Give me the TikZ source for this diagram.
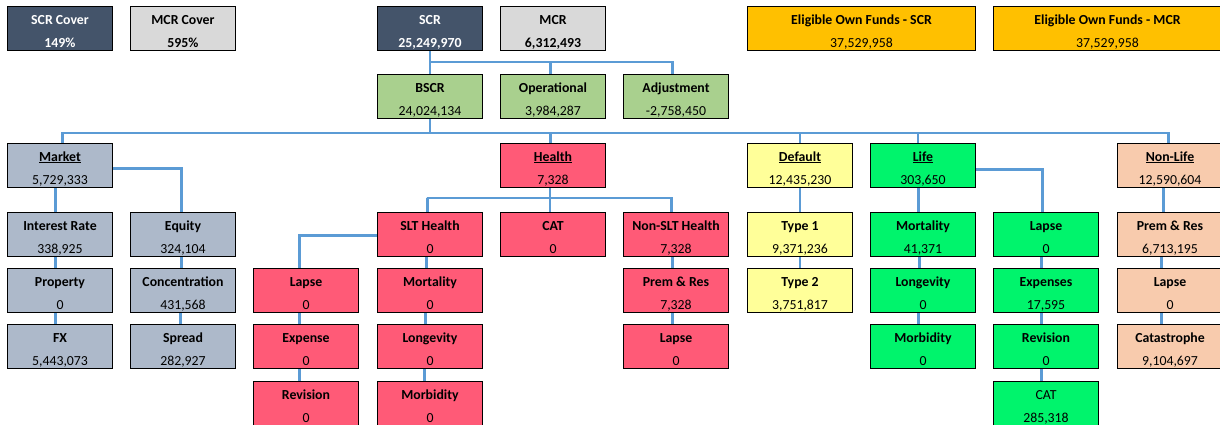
\documentclass[tikz,border=0pt]{standalone}
\usepackage{fontspec}
\setmainfont{Carlito}
\definecolor{slate}{HTML}{44546A}
\definecolor{lgray}{HTML}{D9D9D9}
\definecolor{gold}{HTML}{FFC000}
\definecolor{sage}{HTML}{A9D08E}
\definecolor{mkt}{HTML}{ADB9CA}
\definecolor{hlth}{HTML}{FF5A77}
\definecolor{dflt}{HTML}{FFFF99}
\definecolor{lifeg}{HTML}{00F46C}
\definecolor{nonl}{HTML}{F8CBAD}
\definecolor{conncol}{HTML}{5B9BD5}
\pgfdeclarelayer{bgfill}
\pgfdeclarelayer{lines}
\pgfsetlayers{bgfill,lines,main}
\newcommand{\bt}[2]{\rule{0pt}{16pt}\textbf{#1}\\#2}
\newcommand{\rt}[2]{\rule{0pt}{16pt}#1\\#2}
\tikzset{
  box/.style={draw=black, line width=1pt, minimum width=105pt, minimum height=44pt,
    inner sep=0pt, anchor=north west, align=center,
    font=\fontsize{13.8}{23}\selectfont},
  widebox/.style={box, minimum width=228pt},
  link/.style={draw=conncol, line width=2.6pt},
}
\begin{document}
\begin{tikzpicture}[x=1pt,y=-1pt]
\useasboundingbox (0,0) rectangle (1220,424);
\begin{pgfonlayer}{bgfill}
\fill[white] (0,0) rectangle (1220,424);
\end{pgfonlayer}
% row 0
\node[box, fill=slate, text=white] (scrcov) at (7,6) {\bt{SCR Cover}{\textbf{149\%}}};
\node[box, fill=lgray] (mcrcov) at (130,6) {\bt{MCR Cover}{\textbf{595\%}}};
\node[box, fill=slate, text=white] (scr) at (377,6) {\bt{SCR}{\textbf{25,249,970}}};
\node[box, fill=lgray] (mcr) at (500,6) {\bt{MCR}{\textbf{6,312,493}}};
\node[widebox, fill=gold] (eofs) at (747,6) {\bt{Eligible Own Funds - SCR}{37,529,958}};
\node[widebox, fill=gold] (eofm) at (993,6) {\bt{Eligible Own Funds - MCR}{37,529,958}};
% row 1
\node[box, fill=sage] (bscr) at (377,74) {\bt{BSCR}{24,024,134}};
\node[box, fill=sage] (oper) at (500,74) {\bt{Operational}{3,984,287}};
\node[box, fill=sage] (adj) at (623,74) {\bt{Adjustment}{-2,758,450}};
% row 2
\node[box, fill=mkt] (market) at (7,143) {\bt{\underline{Market}}{5,729,333}};
\node[box, fill=hlth] (health) at (500,143) {\bt{\underline{Health}}{7,328}};
\node[box, fill=dflt] (default) at (747,143) {\bt{\underline{Default}}{12,435,230}};
\node[box, fill=lifeg] (life) at (870,143) {\bt{\underline{Life}}{303,650}};
\node[box, fill=nonl] (nonlife) at (1117,143) {\bt{\underline{Non-Life}}{12,590,604}};
% row 3
\node[box, fill=mkt] (ir) at (7,212) {\bt{Interest Rate}{338,925}};
\node[box, fill=mkt] (equity) at (130,212) {\bt{Equity}{324,104}};
\node[box, fill=hlth] (slt) at (377,212) {\bt{SLT Health}{0}};
\node[box, fill=hlth] (hcat) at (500,212) {\bt{CAT}{0}};
\node[box, fill=hlth] (nslt) at (623,212) {\bt{Non-SLT Health}{7,328}};
\node[box, fill=dflt] (type1) at (747,212) {\bt{Type 1}{9,371,236}};
\node[box, fill=lifeg] (lmort) at (870,212) {\bt{Mortality}{41,371}};
\node[box, fill=lifeg] (llapse) at (993,212) {\bt{Lapse}{0}};
\node[box, fill=nonl] (nlprem) at (1117,212) {\bt{Prem \& Res}{6,713,195}};
% row 4
\node[box, fill=mkt] (prop) at (7,268) {\bt{Property}{0}};
\node[box, fill=mkt] (conc) at (130,268) {\bt{Concentration}{431,568}};
\node[box, fill=hlth] (hlapse) at (253,268) {\bt{Lapse}{0}};
\node[box, fill=hlth] (hmort) at (377,268) {\bt{Mortality}{0}};
\node[box, fill=hlth] (hprem) at (623,268) {\bt{Prem \& Res}{7,328}};
\node[box, fill=dflt] (type2) at (747,268) {\bt{Type 2}{3,751,817}};
\node[box, fill=lifeg] (llong) at (870,268) {\bt{Longevity}{0}};
\node[box, fill=lifeg] (lexp) at (993,268) {\bt{Expenses}{17,595}};
\node[box, fill=nonl] (nllapse) at (1117,268) {\bt{Lapse}{0}};
% row 5
\node[box, fill=mkt] (fx) at (7,324) {\bt{FX}{5,443,073}};
\node[box, fill=mkt] (spread) at (130,324) {\bt{Spread}{282,927}};
\node[box, fill=hlth] (hexp) at (253,324) {\bt{Expense}{0}};
\node[box, fill=hlth] (hlong) at (377,324) {\bt{Longevity}{0}};
\node[box, fill=hlth] (hnlapse) at (623,324) {\bt{Lapse}{0}};
\node[box, fill=lifeg] (lmorb) at (870,324) {\bt{Morbidity}{0}};
\node[box, fill=lifeg] (lrev) at (993,324) {\bt{Revision}{0}};
\node[box, fill=nonl] (nlcat) at (1117,324) {\bt{Catastrophe}{9,104,697}};
% row 6
\node[box, fill=hlth] (hrev) at (253,381) {\bt{Revision}{0}};
\node[box, fill=hlth] (hmorb) at (377,381) {\bt{Morbidity}{0}};
\node[box, fill=lifeg] (lcat) at (993,381) {\rt{CAT}{285,318}};
% connectors
\coordinate (bus1) at (429.5,62);
\coordinate (bus2) at (429.5,133);
\coordinate (hbus) at (427,198);
\begin{pgfonlayer}{lines}
\draw[link] (scr.south) -- (bscr.north);
\draw[link] (scr.south |- bus1) -| ([xshift=-3.5pt]adj.north);
\draw[link] ([xshift=-2.5pt]oper.north) -- ([xshift=-2.5pt]oper.north |- bus1);
\draw[link] (bscr.south) -- (bscr.south |- bus2);
\draw[link] ([xshift=2.5pt]market.north) |- (bus2) -| ([xshift=-1.5pt]nonlife.north);
\draw[link] ([xshift=-2.5pt]health.north) -- ([xshift=-2.5pt]health.north |- bus2);
\draw[link] (default.north) -- (default.north |- bus2);
\draw[link] ([xshift=-5pt]life.north) -- ([xshift=-5pt]life.north |- bus2);
% market
\draw[link] ([xshift=-4.5pt]market.south) -- ([xshift=-4.5pt]ir.north);
\draw[link] ([xshift=-4.5pt]ir.south) -- ([xshift=-4.5pt]prop.north);
\draw[link] ([xshift=-4.5pt]prop.south) -- ([xshift=-4.5pt]fx.north);
\draw[link] ([yshift=-3pt]market.east) -| ([xshift=-1.5pt]equity.north);
\draw[link] ([xshift=-1.5pt]equity.south) -- ([xshift=-1.5pt]conc.north);
\draw[link] ([xshift=-2.5pt]conc.south) -- ([xshift=-2.5pt]spread.north);
% health
\draw[link] ([xshift=-3pt]health.south) -- ([xshift=-3pt]hcat.north);
\draw[link] ([xshift=-2.5pt]slt.north) |- (hbus) -| ([xshift=-4.5pt]nslt.north);
\draw[link] ([yshift=-1pt]slt.west) -| ([xshift=-6.5pt]hlapse.north);
\draw[link] ([xshift=-6.5pt]hlapse.south) -- ([xshift=-6.5pt]hexp.north);
\draw[link] ([xshift=-6.5pt]hexp.south) -- ([xshift=-6.5pt]hrev.north);
\draw[link] ([xshift=-3.5pt]slt.south) -- ([xshift=-3.5pt]hmort.north);
\draw[link] ([xshift=-4.5pt]hmort.south) -- ([xshift=-4.5pt]hlong.north);
\draw[link] ([xshift=-5.5pt]hlong.south) -- ([xshift=-5.5pt]hmorb.north);
\draw[link] ([xshift=-3.5pt]nslt.south) -- ([xshift=-3.5pt]hprem.north);
\draw[link] ([xshift=-3.5pt]hprem.south) -- ([xshift=-3.5pt]hnlapse.north);
% default
\draw[link] (default.south) -- (type1.north);
\draw[link] (type1.south) -- (type2.north);
% life
\draw[link] ([xshift=-4.5pt]life.south) -- ([xshift=-4.5pt]lmort.north);
\draw[link] ([xshift=-3.5pt]lmort.south) -- ([xshift=-3.5pt]llong.north);
\draw[link] ([xshift=-4.5pt]llong.south) -- ([xshift=-4.5pt]lmorb.north);
\draw[link] ([yshift=-4pt]life.east) -| ([xshift=-3.5pt]llapse.north);
\draw[link] ([xshift=-4.5pt]llapse.south) -- ([xshift=-4.5pt]lexp.north);
\draw[link] ([xshift=-4.5pt]lexp.south) -- ([xshift=-4.5pt]lrev.north);
\draw[link] ([xshift=-4.5pt]lrev.south) -- ([xshift=-4.5pt]lcat.north);
% non-life
\draw[link] ([xshift=-6.5pt]nonlife.south) -- ([xshift=-6.5pt]nlprem.north);
\draw[link] ([xshift=-8.5pt]nlprem.south) -- ([xshift=-8.5pt]nllapse.north);
\draw[link] ([xshift=-8.5pt]nllapse.south) -- ([xshift=-8.5pt]nlcat.north);
\end{pgfonlayer}
\end{tikzpicture}
\end{document}
